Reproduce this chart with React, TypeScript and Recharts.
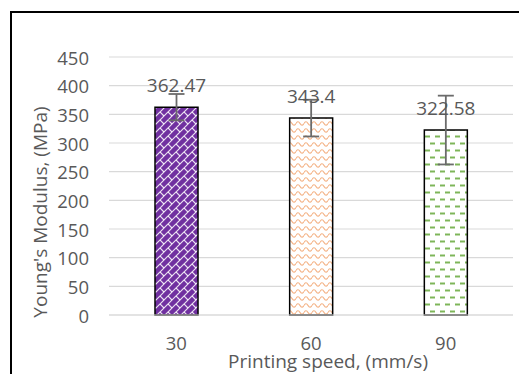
import { BarChart, Bar, XAxis, YAxis, CartesianGrid, ErrorBar, LabelList, Cell } from "recharts";

const SPEEDS = ["30", "60", "90"];
const MODULUS = [362.47, 343.4, 322.58];
const ERRORS = [23, 32, 60];
const Y_TICKS = [0, 50, 100, 150, 200, 250, 300, 350, 400, 450];
const FILLS = ["url(#brickPurple)", "url(#waveOrange)", "url(#dashGreen)"];

const TEXT = "#595959";
const FONT = "'Open Sans', sans-serif";

const chartData = SPEEDS.map((s, i) => ({ speed: s, modulus: MODULUS[i], err: ERRORS[i] }));

function Patterns() {
  return (
    <svg width={0} height={0} style={{ position: "absolute" }}>
      <defs>
        <pattern id="brickPurple" width={8} height={8} patternUnits="userSpaceOnUse">
          <rect width={8} height={8} fill="#7030A0" />
          <path d="M0 8 L8 0 M-1 1 L1 -1 M7 9 L9 7" stroke="#fff" strokeWidth={1.2} opacity={0.85} />
          <path d="M0 0 L4 4" stroke="#fff" strokeWidth={1.2} opacity={0.85} />
        </pattern>
        <pattern id="waveOrange" width={8} height={7} patternUnits="userSpaceOnUse">
          <rect width={8} height={7} fill="#fff" />
          <path d="M0 4.5 Q2 1 4 4.5 T8 4.5" stroke="#F4B183" strokeWidth={1.2} fill="none" />
        </pattern>
        <pattern id="dashGreen" width={10} height={14} patternUnits="userSpaceOnUse">
          <rect width={10} height={14} fill="#fff" />
          <path d="M0 3.5 L5 3.5 M5 10.5 L10 10.5" stroke="#70AD47" strokeWidth={2} opacity={0.9} />
        </pattern>
      </defs>
    </svg>
  );
}

const YTick = (p: any) => (
  <text x={89} y={p.y + 7.5} textAnchor="end" fill={TEXT} fontSize={18.5} fontFamily={FONT}>
    {p.payload.value}
  </text>
);

const XTick = (p: any) => (
  <text x={p.x} y={350} textAnchor="middle" fill={TEXT} fontSize={18.5} fontFamily={FONT}>
    {p.payload.value}
  </text>
);

export default function App() {
  return (
    <div style={{ position: "absolute", left: 0, top: 0, width: 519, height: 374, background: "#fff", overflow: "hidden" }}>
      <Patterns />
      <div
        style={{
          position: "absolute",
          left: 10,
          top: 11,
          width: 520,
          height: 380,
          borderTop: "2px solid #000",
          borderLeft: "2px solid #000",
        }}
      />
      <BarChart
        width={519}
        height={374}
        data={chartData}
        margin={{ top: 57, right: 6, bottom: 19, left: 0 }}
        barSize={43}
      >
        <CartesianGrid vertical={false} stroke="#d9d9d9" strokeWidth={1.2} />
        <XAxis
          dataKey="speed"
          height={40}
          tickLine={false}
          axisLine={{ stroke: "#d9d9d9", strokeWidth: 1.2 }}
          tick={XTick}
          label={() => (
            <text x={328} y={368} textAnchor="middle" fill={TEXT} fontSize={19} fontFamily={FONT}>
              Printing speed, (mm/s)
            </text>
          )}
        />
        <YAxis
          width={109}
          domain={[0, 450]}
          ticks={Y_TICKS}
          interval={0}
          tickLine={false}
          axisLine={false}
          tick={YTick}
          label={() => (
            <text transform="translate(47,212) rotate(-90)" textAnchor="middle" fill={TEXT} fontSize={19} fontFamily={FONT}>
              Young's Modulus, (MPa)
            </text>
          )}
        />
        <Bar dataKey="modulus" stroke="#000" strokeWidth={1.5} isAnimationActive={false}>
          {chartData.map((d, i) => (
            <Cell key={d.speed} fill={FILLS[i]} />
          ))}
          <LabelList dataKey="modulus" position="top" offset={15} fill={TEXT} fontSize={19} fontFamily={FONT} />
          <ErrorBar dataKey="err" width={8} stroke="#6b6b6b" strokeWidth={1.8} isAnimationActive={false} />
        </Bar>
      </BarChart>
    </div>
  );
}
